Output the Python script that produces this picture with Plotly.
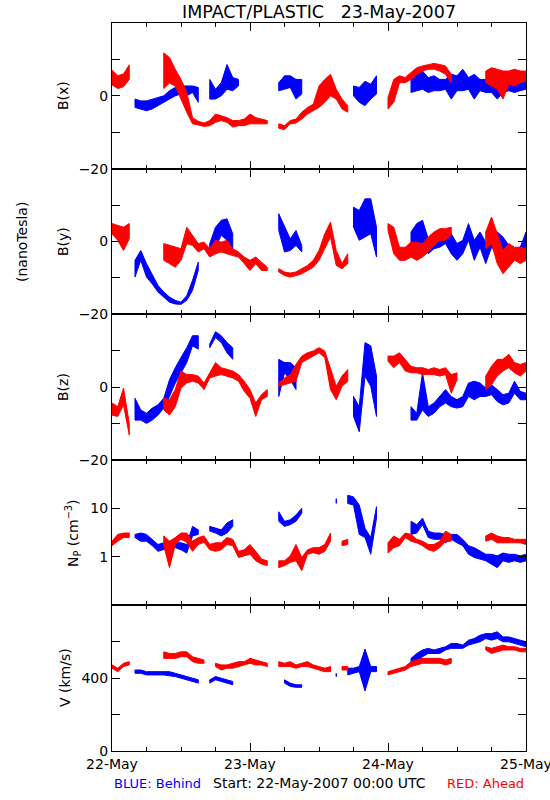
import datetime as dt
import plotly.graph_objects as go
from plotly.subplots import make_subplots

N = None
START = dt.datetime(2007, 5, 22)
HOURS = list(range(73))

# ---- B(x) nT ----
bx_ahead_lo = [3, 2, 2.5, 4.5, N, N, N, N, N, 2, 3.5, 2.7, -1, -4.5, -7.7, -8, -8.4, -8.2, -7.3, -6.8,
               -7.3, -8.6, -8.2, -8.2, -7.7, -7.7, -7.7, -7.7, N, -8.9, -9.3, -7.7, -7.5, -6.4, -5, -4.1, -3.2, -1.8, 0, -0.9,
               -3.6, -4.5, N, N, N, N, N, N, -3.6, -1.8, 3.6, 3.6, 4.5, 5.9, 6.8, 7.3, 7.3, 6.8, 5.9, 3.6,
               N, N, N, N, N, 3.6, 2.7, 1.8, -0.9, 3.2, 2.7, 3.6, 4]
bx_ahead_hi = [7, 5.5, 6, 8.5, N, N, N, N, N, 11.8, 10.5, 7.3, 4.5, 1, -6, -7, -7.5, -6.8, -5, -5.5,
               -6, -6.8, -6.8, -6.4, -5, -6, -6.4, -6.8, N, -7.7, -8.2, -6.8, -6.4, -4.5, -3.2, -2.3, 2.7, 4.5, 5.9, 1.8,
               -0.9, -2.7, N, N, N, N, N, N, -0.5, 4.5, 5.5, 5, 6.4, 7.7, 8.2, 8.6, 8.9, 8.6, 8.2, 5.9,
               N, N, N, N, N, 6.8, 7.7, 7.3, 6.8, 6.8, 7.3, 6.8, 6.8]
bx_behind_lo = [N, N, N, N, -3.2, -3.6, -4.1, -3.6, -2.7, -1.8, -0.9, 0, 0.5, 0, 0.9, -1.8, N, -0.9, -0.9, 0,
                1.8, 1.4, 2.7, N, N, N, N, N, N, 1.4, 1.8, 2.3, -0.9, 0.5, N, N, N, N, N, N,
                N, N, 0, -1.8, -2.7, -0.9, 0.5, N, N, N, N, N, 0.9, 1.4, 1.8, 0.9, 1.4, 1.4, 1.8, -0.9,
                1.4, 1.4, 1.8, -0.9, 1.4, 0.9, 0.9, -0.9, 0.9, 1.4, 0.9, 1.4, 1.8]
bx_behind_hi = [N, N, N, N, -0.9, -1.4, -1.4, -0.9, -0.5, 0, 1.4, 2.3, 2.7, 2.7, 2.7, 2.3, N, 4.5, 1.8, 3.6,
                8.6, 5, 4.5, N, N, N, N, N, N, 3.6, 5.5, 5.5, 4.5, 4.5, N, N, N, N, N, N,
                N, N, 2.7, 2.3, 4, 3.2, 5.5, N, N, N, N, N, 5.5, 5.9, 6.8, 5, 5.5, 4.5, 4.5, 5.9,
                5.5, 7.3, 5, 5.9, 4.5, 4.5, 4.5, 4.5, 3.6, 5.5, 4.5, 4.5, 5.5]

# ---- B(y) nT ----
by_ahead_lo = [2.1, 0.3, -2.5, 0.7, N, N, N, N, N, -5.2, -6.1, -7.1, -5.2, -0.6, -1.1, -2.9, -2, -4.3, -3.4, -2.9,
               -3.4, -3.9, -4.3, -6.1, -8, -6.1, -8, -8, N, -8.4, -9.4, -9.8, -9.4, -8.9, -8, -7.1, -5.2, -2, 1.2, -6.6,
               -7.5, -6.1, N, N, N, N, N, N, 3, -3.4, -5.2, -5.2, -4.3, -5.2, -4.3, -2.9, -1.1, 0.3, 0.3, 1.7,
               N, N, N, N, N, -2, -0.6, -6.1, -8.9, -7.1, -5.2, -6.1, -5.2]
by_ahead_hi = [4.9, 4.4, 3.9, 4.9, N, N, N, N, N, -0.6, -1.1, -1.6, -2, 3.9, 1.7, -0.6, -0.2, -2, 0.3, -0.2,
               0.3, -2, -2.9, -4.3, -5.2, -4.3, -5.7, -7.1, N, -7.5, -8.4, -8.7, -8.4, -7.5, -6.6, -5.2, -2.5, 2.1, 5.3, -2.5,
               -6.1, -3.4, N, N, N, N, N, N, 4.9, 3.9, -1.6, -1.6, -0.2, -0.2, -0.6, 1.2, 2.6, 3.5, 3.5, 3.9,
               N, N, N, N, N, 2.6, 6.7, 2.1, -2.5, -0.6, -1.6, -1.6, -2]
by_behind_lo = [N, N, N, N, -9.8, -5.2, -9.8, -11.7, -13.9, -15.3, -16.7, -17.2, -17.3, -16.2, -13.5, -8, N, -2.9, -1.6, 1.7,
                0.3, -2.5, N, N, N, N, N, N, N, 3, -2.9, -2.5, -1.1, -2.9, N, N, N, N, N, N,
                N, N, 3.9, 0.3, 1.2, 2.1, -4.3, N, N, N, N, N, -2.5, -2, -0.6, -3.4, -2, -1.6, -0.6, -3.4,
                -5.2, -3.4, 0.3, -5.2, -1.6, -6.1, -1.6, -3.4, -4.3, -4.3, -4.3, -4.3, -1.6]
by_behind_hi = [N, N, N, N, -5.2, -2.5, -6.1, -8.9, -12.1, -13.9, -15.3, -16.2, -16.7, -14.9, -10.7, -5.7, N, -0.6, 3.9, 5.8,
                6.2, 2.1, N, N, N, N, N, N, N, 7.6, 3.9, 0.7, 3, -1.1, N, N, N, N, N, N,
                N, N, 9.4, 8.5, 11.7, 11.7, 3.9, N, N, N, N, N, 2.6, 4.9, 5.8, 0.7, 1.7, 2.6, 1.7, 2.1,
                -0.6, 0.3, 4.9, 0.3, 2.6, -0.2, 2.1, 2.6, 1.2, -1.1, -2, -1.6, 2.6]

# ---- B(z) nT ----
bz_ahead_lo = [-7.7, -8.1, -4.9, -13.2, N, N, N, N, N, -6.3, -7.7, -5.4, -0.3, 1.1, 1.6, 1.1, -0.7, 2.5, 3, 3.4,
               3, 2.5, 1.6, -1.2, -3.1, -8.1, -3.5, -2.6, N, 0.2, 0.6, 1.1, 1.6, 6.7, 7.6, 8.5, 9.4, 8.1, -0.7, -3.5,
               0.2, 1.6, N, N, N, N, N, N, 7.1, 5.3, 6.7, 4.4, 3.9, 3.9, 3.4, 3.4, 3.4, 3, 3.4, -1.7,
               2, N, N, N, N, -0.7, 0.6, 3, 4.4, 5.3, 3.9, 3, 4.4]
bz_ahead_hi = [-4.4, -5.4, -0.3, -10, N, N, N, N, N, -3.1, -3.5, -0.7, 4.4, 3.4, 3.4, 3, 1.1, 3.9, 6.7, 5.3,
               4.8, 4.4, 3.4, 1.6, -0.7, -4.4, -2.1, -0.7, N, 1.1, 2.5, 3.4, 6.2, 8.5, 9.4, 9.9, 10.8, 9.9, 4.8, 0.2,
               3, 4.8, N, N, N, N, N, N, 8.5, 8.5, 9.4, 7.6, 5.7, 5.3, 5.3, 4.8, 5.3, 4.8, 5.3, 3.4,
               3.9, N, N, N, N, 3, 5.7, 7.6, 7.6, 9, 6.7, 6.2, 6.7]
bz_behind_lo = [N, N, N, N, -9.1, -9.1, -10, -9.1, -7.7, -5.8, -2.6, 1.1, 3.9, 6.7, 11.3, 10.4, N, 10.8, 13.6, 12.2,
                9.4, 7.6, N, N, N, N, N, N, N, -2.6, 3.9, 2, -0.7, N, N, N, N, N, N, N,
                N, N, -8.1, -12.3, 3, 0.2, -8.1, N, N, N, N, N, -9.1, -9.1, -6.3, -8.1, -7.2, -5.4, -4.4, -5.4,
                -5.8, -5.4, -2.6, -3.5, -2.6, -2.6, -2.1, -4, -4.9, -4.4, -1.7, -3.5, -3.5]
bz_behind_hi = [N, N, N, N, -3.1, -6.3, -7.2, -5.8, -4.9, -3.1, 2, 5.3, 8.1, 10.8, 14.1, 14.1, N, 11.8, 15.2, 14.1,
                12.2, 10.8, N, N, N, N, N, N, N, 7.6, 6.7, 6.7, 5.3, N, N, N, N, N, N, N,
                N, N, -2.6, -5.4, 12.2, 11.3, 3, N, N, N, N, N, -5.4, -7.2, 3.9, -5.4, -4.4, -2.6, -0.7, -2.6,
                -3.5, -2.6, 1.1, 1.6, 1.1, -0.3, 0.6, -0.7, -2.1, -1.7, 1.6, -1.2, -1.7]

# ---- N_P cm^-3 ----
np_ahead_lo = [1.7, 2.1, 2.5, 2.5, N, N, N, N, N, 1.7, 0.6, 1.8, 2.3, 2.0, 1.3, 1.8, 2.0, 1.4, 1.3, 1.4,
               1.8, 1.7, 0.97, 1.05, 1.13, 0.83, 0.71, 0.66, N, 0.6, 0.66, 0.77, 0.83, 0.52, 1.13, 1.22, 1.13, 1.3, 2.1, N,
               1.7, 1.8, N, N, N, N, N, N, 1.2, 1.55, 1.7, 2.5, 2.1, 1.95, 1.7, 1.4, 1.3, 1.55, 2.1, 2.1,
               N, N, N, N, N, 2.1, 2.3, 1.95, 1.95, 1.95, 1.95, 1.95, 1.8]
np_ahead_hi = [2.1, 2.9, 3.1, 3.1, N, N, N, N, N, 2.7, 2.1, 2.5, 3.1, 3.1, 2.1, 2.5, 2.7, 1.8, 1.95, 1.95,
               2.5, 2.3, 1.3, 1.4, 1.8, 1.3, 0.9, 0.83, N, 0.83, 0.83, 1.05, 1.8, 0.97, 1.4, 1.55, 1.55, 1.8, 3.1, N,
               2.1, 2.3, N, N, N, N, N, N, 1.95, 2.7, 2.3, 3.1, 2.9, 2.3, 2.1, 1.8, 1.8, 2.1, 3.4, 2.9,
               N, N, N, N, N, 2.7, 3.1, 2.7, 2.5, 2.5, 2.3, 2.3, 2.3]
np_behind_lo = [N, N, N, N, 2.5, 2.1, 2.1, 1.7, 1.3, 1.4, 1.55, 1.55, 1.4, 1.2, 2.7, 2.9, N, 3.4, 3.1, 2.7,
                3.1, 4.25, N, N, N, N, N, N, N, 5.4, 4.25, 4.6, 5.4, 7.9, N, N, N, N, N, 12.6,
                N, 12.6, 11.7, 2.9, 2.5, 1.13, 6.3, N, N, N, N, N, 2.9, 3.1, 4.6, 2.5, 2.3, 2.3, 1.95, 2.3,
                1.95, 1.7, 1.13, 0.97, 0.9, 0.83, 0.71, 0.6, 0.83, 0.77, 0.83, 0.77, 0.83]
np_behind_hi = [N, N, N, N, 2.9, 3.1, 2.9, 2.3, 1.8, 1.95, 2.1, 1.95, 1.95, 1.8, 4.25, 3.6, N, 4.25, 3.9, 3.6,
                5.0, 5.8, N, N, N, N, N, N, N, 8.5, 5.4, 5.8, 7.3, 10.0, N, N, N, N, N, 15.8,
                N, 18.6, 17.2, 11.7, 3.9, 2.5, 10.8, N, N, N, N, N, 5.4, 4.6, 6.3, 3.4, 3.1, 3.1, 2.9, 2.9,
                2.9, 2.3, 1.7, 1.55, 1.3, 1.13, 1.13, 1.05, 1.2, 1.13, 1.13, 1.05, 1.13]

# ---- V km/s ----
v_ahead_lo = [455, 436, 464, 473, N, N, N, N, N, 509, 509, 509, 518, 518, 491, 482, 482, N, 464, 445,
              455, 455, 464, 473, 482, 473, 473, 464, N, 464, 464, 464, 455, 464, 464, 455, 445, 436, 436, N,
              445, 445, N, N, N, N, N, N, 418, 427, 436, 445, 464, 473, 482, 482, 482, 482, 473, 482,
              N, N, N, N, N, 555, 536, 545, 555, 555, 555, 545, 545]
v_ahead_hi = [473, 455, 482, 491, N, N, N, N, N, 545, 536, 536, 545, 545, 518, 509, 500, N, 482, 473,
              473, 482, 491, 491, 509, 500, 491, 482, N, 491, 482, 491, 473, 482, 491, 473, 464, 455, 464, N,
              464, 464, N, N, N, N, N, N, 436, 445, 455, 464, 491, 500, 509, 509, 509, 509, 500, 509,
              N, N, N, N, N, 573, 564, 573, 582, 573, 573, 564, 564]
v_behind_lo = [N, N, N, N, 427, 427, 418, 418, 418, 418, 413, 409, 400, 391, 382, 373, N, 373, 391, 382,
               373, 364, N, N, N, N, N, N, N, N, 373, 355, 350, 350, N, N, N, N, N, 409,
               N, 418, 427, 436, 330, 436, 436, N, N, N, N, N, 464, 491, 518, 536, 536, 536, 555, 564,
               564, 564, 582, 591, 600, 618, 609, 618, 600, 600, 591, 582, 573]
v_behind_hi = [N, N, N, N, 445, 445, 436, 436, 436, 436, 436, 427, 418, 409, 400, 391, N, 391, 409, 400,
               391, 382, N, N, N, N, N, N, N, N, 391, 373, 364, 364, N, N, N, N, N, 427,
               N, 455, 455, 464, 560, 464, 464, N, N, N, N, N, 509, 536, 555, 564, 555, 564, 573, 591,
               591, 582, 609, 618, 636, 645, 645, 655, 627, 627, 618, 609, 600]

BLUE = "#0000ff"
RED = "#ff0000"
FONT = "DejaVu Sans"

times = [START + dt.timedelta(hours=h) for h in HOURS]


def band(lo, hi):
    xs, ys = [], []
    seg = []
    for i in range(len(HOURS) + 1):
        if i < len(HOURS) and lo[i] is not None:
            seg.append(i)
            continue
        if seg:
            xs += [times[j] for j in seg] + [times[j] for j in reversed(seg)] + [times[seg[0]], None]
            ys += [hi[j] for j in seg] + [lo[j] for j in reversed(seg)] + [hi[seg[0]], None]
            seg = []
    return xs, ys


fig = make_subplots(rows=5, cols=1, shared_xaxes=True, vertical_spacing=0)

series = [
    (1, bx_behind_lo, bx_behind_hi, bx_ahead_lo, bx_ahead_hi),
    (2, by_behind_lo, by_behind_hi, by_ahead_lo, by_ahead_hi),
    (3, bz_behind_lo, bz_behind_hi, bz_ahead_lo, bz_ahead_hi),
    (4, np_behind_lo, np_behind_hi, np_ahead_lo, np_ahead_hi),
    (5, v_behind_lo, v_behind_hi, v_ahead_lo, v_ahead_hi),
]
for row, blo, bhi, rlo, rhi in series:
    for lo, hi, col in ((blo, bhi, BLUE), (rlo, rhi, RED)):
        xs, ys = band(lo, hi)
        fig.add_trace(go.Scatter(x=xs, y=ys, mode="lines", fill="toself", fillcolor=col,
                                 line=dict(color=col, width=1), hoverinfo="skip",
                                 showlegend=False), row=row, col=1)

for r in range(1, 6):
    fig.update_xaxes(row=r, col=1, type="date", range=[START, START + dt.timedelta(days=3)],
                     automargin=False, ticklabeloverflow="allow",
                     showgrid=False, zeroline=False, showline=True, linecolor="black", linewidth=1,
                     mirror="ticks", ticks="inside", ticklen=8, tickcolor="black",
                     dtick=86400000, tick0=START, tickformat="%d-%b",
                     minor=dict(dtick=6 * 3600000, ticks="inside", ticklen=4, tickcolor="black"),
                     showticklabels=(r == 5), tickfont=dict(size=14))

yb = dict(showgrid=False, zeroline=False, showline=True, linecolor="black", linewidth=1,
          automargin=False,
          mirror="ticks", ticks="inside", ticklen=8, tickcolor="black", tickfont=dict(size=14))
for r in (1, 2, 3):
    fig.update_yaxes(row=r, col=1, range=[-20, 20], tickvals=[-20, -10, 0, 10, 20],
                     ticktext=["\u221220", " ", "0", " ", " "], **yb)
fig.update_yaxes(row=4, col=1, type="log", range=[-1, 2], tickvals=[0.1, 1, 10, 100],
                 ticktext=[" ", "1", "10", " "], **yb)
fig.update_yaxes(row=5, col=1, range=[0, 800], tickvals=[0, 200, 400, 600, 800],
                 ticktext=["0", " ", "400", " ", " "], **yb)

PH = 728.0
def py(pix):
    return 1 - (pix - 23) / PH
def px(pix):
    return (pix - 112) / 414.0

ann = []
ann.append(dict(text="IMPACT/PLASTIC   23-May-2007", x=0.5, y=py(12), font=dict(size=17.5)))
labels = [("B(x)", 63, 96), ("B(y)", 63, 242), ("B(z)", 63, 387),
          ("N<sub>P</sub> (cm<sup>\u22123</sup>)", 73, 533), ("V (km/s)", 65, 678),
          ("(nanoTesla)", 22, 242)]
for t, x, y in labels:
    ann.append(dict(text=t, x=px(x), y=py(y), textangle=-90, font=dict(size=14)))
ann.append(dict(text="BLUE: Behind", x=px(112), y=py(783), xanchor="left", font=dict(size=13, color=BLUE)))
ann.append(dict(text="Start: 22-May-2007 00:00 UTC", x=px(319), y=py(783), font=dict(size=14)))
ann.append(dict(text="RED: Ahead", x=px(526), y=py(783), xanchor="right", font=dict(size=13, color=RED)))
for a in ann:
    a.setdefault("xanchor", "center")
    a.update(xref="paper", yref="paper", yanchor="middle", showarrow=False)

fig.update_layout(width=550, height=800, margin=dict(l=112, r=24, t=23, b=49),
                  paper_bgcolor="white", plot_bgcolor="white",
                  font=dict(family=FONT, size=14, color="black"),
                  annotations=ann, showlegend=False)

fig.write_html("out.html", config={"displayModeBar": False},
               post_script="document.body.style.margin='0px';")
